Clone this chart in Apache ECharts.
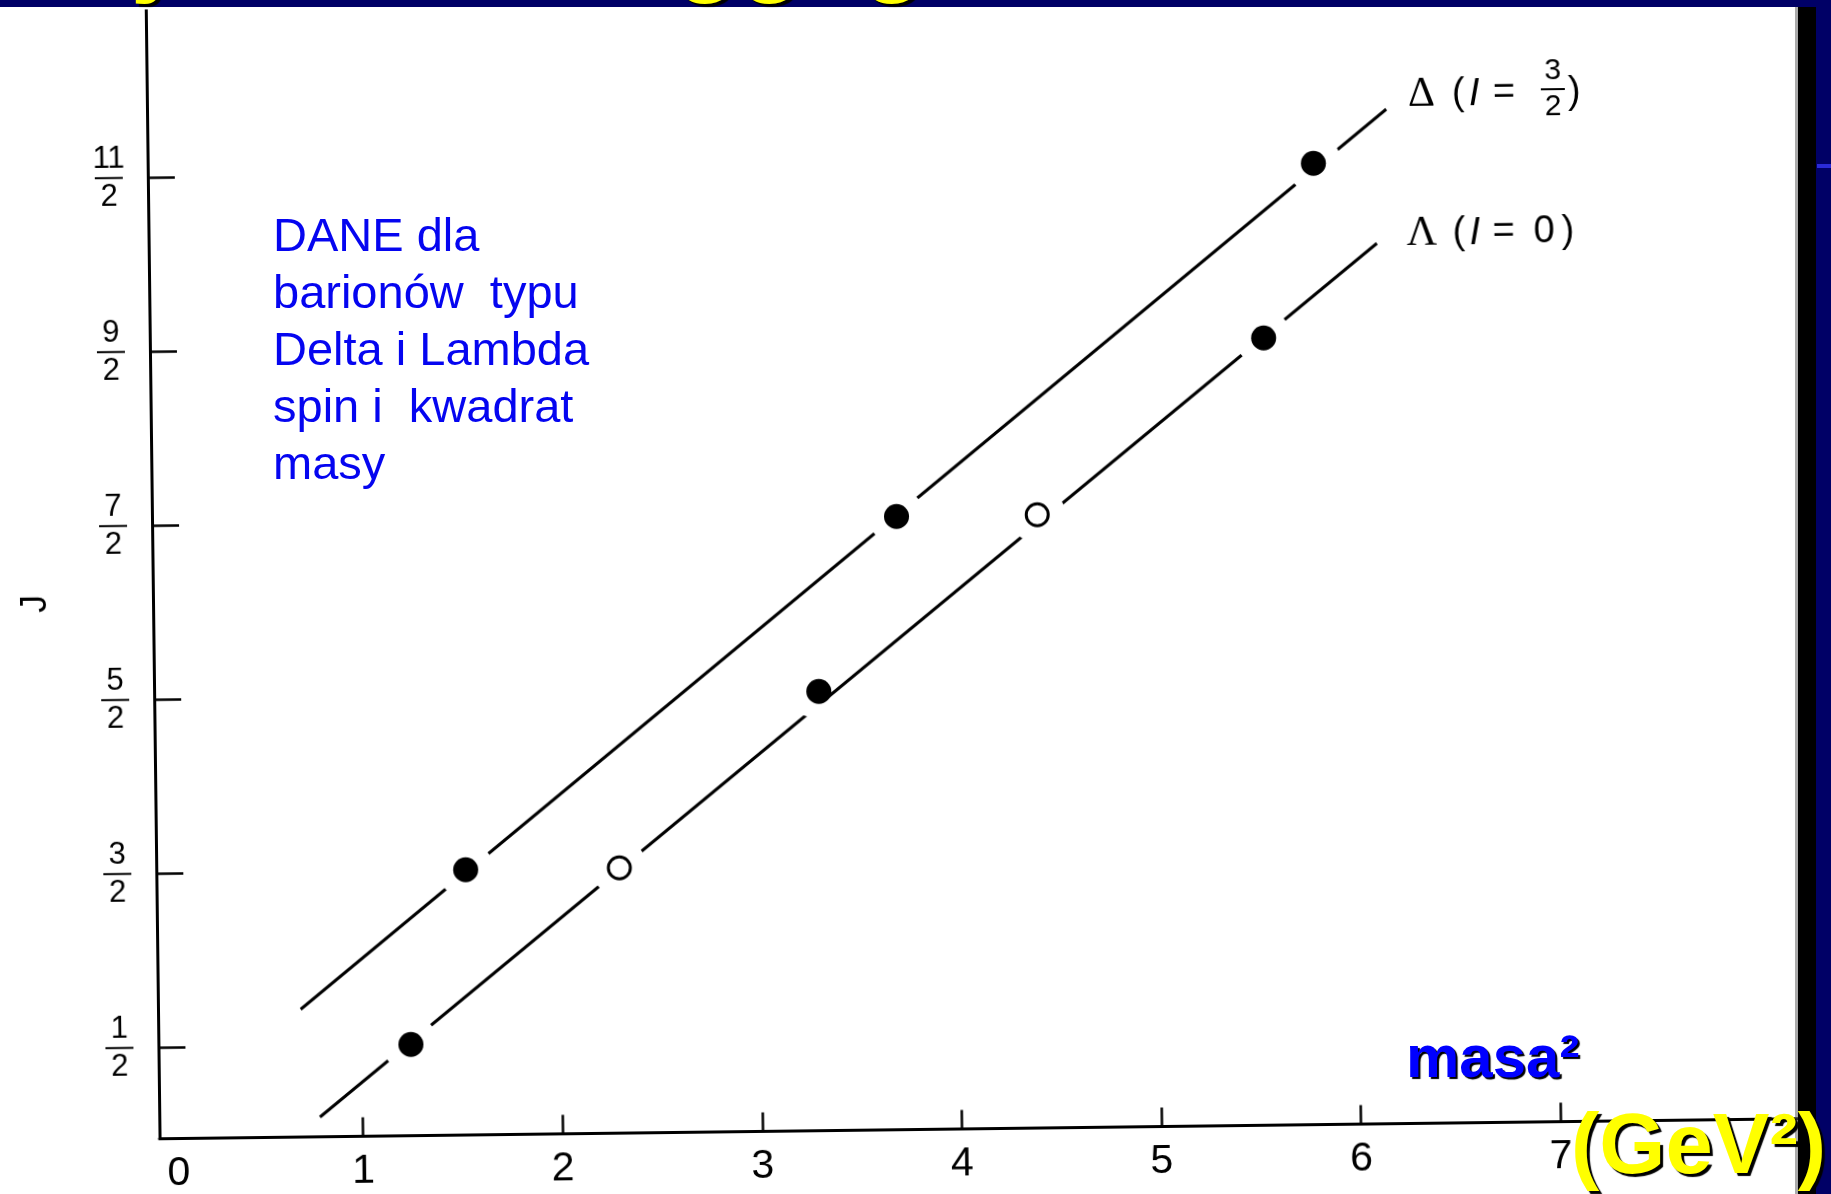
<!DOCTYPE html>
<html><head><meta charset="utf-8">
<script src="https://cdn.jsdelivr.net/npm/echarts@6/dist/echarts.min.js"></script>
<style>
html,body{margin:0;padding:0;background:#fff;overflow:hidden;width:1831px;height:1194px;}
#plot,#slide{position:absolute;left:0;top:0;width:1831px;height:1194px;}
#plot{transform:rotate(-0.7deg);}
</style></head><body>
<div id="plot"></div><div id="slide"></div>
<script>
// ---- data ----
const xTicks = [1, 2, 3, 4, 5, 6, 7];
const xLabels = [0, 1, 2, 3, 4, 5, 6, 7];
const jTicks = [0.5, 1.5, 2.5, 3.5, 4.5, 5.5];
const jNumerators = ['1', '3', '5', '7', '9', '11'];
const jDenominators = ['2', '2', '2', '2', '2', '2'];

const deltaM2 = [1.53, 3.71, 5.82];
const deltaJ = [1.5, 3.5, 5.5];
const deltaOpen = [false, false, false];

const lambdaM2 = [1.245, 2.30, 3.31, 4.415, 5.56];
const lambdaJ = [0.5, 1.5, 2.5, 3.5, 4.5];
const lambdaOpen = [false, true, false, true, false];

const deltaLineM2 = [0.695, 6.188];
const deltaLineJ = [0.71, 5.806];
const lambdaLineM2 = [0.785, 6.133];
const lambdaLineJ = [0.089, 5.036];

// ---- styling ----
const sans = "'Liberation Sans', Arial, Helvetica, sans-serif";
const serif = "'Liberation Serif', 'Times New Roman', serif";
const pairs = (xs, ys) => xs.map((x, i) => [x, ys[i]]);
function markers(xs, ys, open) {
  return xs.map((x, i) => open[i]
    ? { value: [x, ys[i]], symbolSize: 22, itemStyle: { color: '#fff', borderColor: '#000', borderWidth: 3, opacity: 1 } }
    : { value: [x, ys[i]], symbolSize: 25, itemStyle: { color: '#000', borderWidth: 0, opacity: 1 } });
}
// white discs that cut the trajectory line around each point (one-sided cut for the 3rd Λ point)
function gaps(xs, ys, oneSided) {
  return xs.map((x, i) => oneSided === i
    ? { value: [x, ys[i]], symbolSize: 34, symbolOffset: [-9, 8] }
    : { value: [x, ys[i]] });
}
function txt(t, x, y, size, family, extra, rot) {
  return {
    type: 'text', x: x, y: y, rotation: rot || 0, silent: true, z: 10,
    style: Object.assign({ text: t, fontSize: size, fontFamily: family, fill: '#000',
      align: 'left', textAlign: 'left', verticalAlign: 'middle', textVerticalAlign: 'middle' }, extra || {})
  };
}
function frac(n, d, x, y, size, barW) {
  return {
    type: 'text', x: x, y: y, silent: true, z: 10,
    style: {
      text: '{n|' + n + '}\n{b| }\n{d|' + d + '}',
      align: 'center', textAlign: 'center', verticalAlign: 'middle', textVerticalAlign: 'middle',
      rich: {
        n: { fontSize: size, fontFamily: sans, fill: '#000', color: '#000', lineHeight: size, align: 'center' },
        b: { width: barW, height: 2, lineHeight: 6, fontSize: 2, backgroundColor: '#000', align: 'center' },
        d: { fontSize: size, fontFamily: sans, fill: '#000', color: '#000', lineHeight: size, align: 'center' }
      }
    }
  };
}

const plot = echarts.init(document.getElementById('plot'));
plot.setOption({
  animation: false,
  backgroundColor: 'transparent',
  grid: { left: 153, right: 17.3, top: 0, bottom: 64.4 },
  xAxis: {
    type: 'value', min: -0.02, max: 8.3,
    axisLine: { onZero: false, lineStyle: { color: '#000', width: 3 } },
    axisTick: { show: true, inside: true, length: 19, customValues: xTicks, lineStyle: { color: '#000', width: 2.5 } },
    axisLabel: {
      customValues: xLabels, margin: 15, fontSize: 41, fontFamily: sans, color: '#000',
      formatter: v => v === 0 ? '{z|0}' : String(v),
      rich: { z: { fontSize: 41, fontFamily: sans, color: '#000', padding: [0, 0, 0, 30] } }
    },
    splitLine: { show: false }
  },
  yAxis: {
    type: 'value', min: -0.025, max: 6.467,
    axisLine: { onZero: false, lineStyle: { color: '#000', width: 3 } },
    axisTick: { show: true, inside: true, length: 27, customValues: jTicks, lineStyle: { color: '#000', width: 2.5 } },
    axisLabel: {
      customValues: jTicks, margin: 39, align: 'center', color: '#000',
      formatter: v => {
        const i = jTicks.findIndex(t => Math.abs(t - v) < 1e-6);
        if (i < 0) return '';
        return '{n|' + jNumerators[i] + '}\n{b| }\n{d|' + jDenominators[i] + '}';
      },
      rich: {
        n: { fontSize: 31, fontFamily: sans, color: '#000', lineHeight: 32, align: 'center' },
        b: { width: 28, height: 2, lineHeight: 6, fontSize: 2, backgroundColor: '#000', align: 'center' },
        d: { fontSize: 31, fontFamily: sans, color: '#000', lineHeight: 32, align: 'center' }
      }
    },
    splitLine: { show: false }
  },
  series: [
    { name: 'Δ line', type: 'line', data: pairs(deltaLineM2, deltaLineJ), showSymbol: false, symbol: 'none',
      lineStyle: { color: '#000', width: 3 }, z: 2, silent: true },
    { name: 'Λ line', type: 'line', data: pairs(lambdaLineM2, lambdaLineJ), showSymbol: false, symbol: 'none',
      lineStyle: { color: '#000', width: 3 }, z: 2, silent: true },
    { name: 'gap', type: 'scatter', data: gaps(deltaM2, deltaJ, -1).concat(gaps(lambdaM2, lambdaJ, 2)),
      symbolSize: 56, itemStyle: { color: '#fff', opacity: 1 }, z: 3, silent: true },
    { name: 'Δ', type: 'scatter', data: markers(deltaM2, deltaJ, deltaOpen), z: 4, silent: true },
    { name: 'Λ', type: 'scatter', data: markers(lambdaM2, lambdaJ, lambdaOpen), z: 4, silent: true }
  ],
  graphic: [
    txt('J', 36, 593, 36, sans, { align: 'center', textAlign: 'center' }, Math.PI / 2),
    // Δ (I = 3/2)
    txt('Δ', 1414, 101, 42, serif),
    txt('(', 1458, 101, 38, sans),
    txt('I', 1475, 101, 38, sans, { fontStyle: 'italic' }),
    txt('=', 1499, 101, 38, sans),
    frac('3', '2', 1559, 97, 30, 24),
    txt(')', 1574, 101, 38, sans),
    // Λ (I = 0)
    txt('Λ', 1411, 240, 42, serif),
    txt('(', 1457, 240, 38, sans),
    txt('I', 1474, 240, 38, sans, { fontStyle: 'italic' }),
    txt('=', 1497, 240, 38, sans),
    txt('0', 1538, 240, 38, sans),
    txt(')', 1566, 240, 38, sans)
  ]
});

// ---- slide overlay (not rotated) ----
const slide = echarts.init(document.getElementById('slide'));
slide.setOption({
  animation: false,
  backgroundColor: 'transparent',
  graphic: [
    { type: 'rect', shape: { x: 0, y: 0, width: 1831, height: 7 }, style: { fill: '#000066' }, z: 1, silent: true },
    { type: 'rect', shape: { x: 1795, y: 7, width: 4, height: 1187 }, style: { fill: '#555', opacity: 0.5 }, z: 1, silent: true },
    { type: 'rect', shape: { x: 1798, y: 7, width: 19, height: 1187 }, style: { fill: '#000' }, z: 1, silent: true },
    { type: 'rect', shape: { x: 1816, y: 0, width: 15, height: 1194 }, style: { fill: '#000066' }, z: 2, silent: true },
    { type: 'rect', shape: { x: 1817, y: 164, width: 14, height: 4 }, style: { fill: '#2a2ad8' }, z: 3, silent: true },
    { type: 'text', x: -20, y: -47, z: 5, silent: true,
      style: { text: 'Trajektorie Reggego', fontSize: 105, fontWeight: 'bold', fontFamily: sans, fill: '#ffff00',
        align: 'left', textAlign: 'left', verticalAlign: 'middle', textVerticalAlign: 'middle',
        textShadowColor: '#000', textShadowOffsetX: 3, textShadowOffsetY: 3, textShadowBlur: 1 } },
    { type: 'text', x: 273, y: 210, z: 5, silent: true,
      style: { text: 'DANE dla\nbarionów  typu\nDelta i Lambda\nspin i  kwadrat\nmasy', fontSize: 47, lineHeight: 57,
        fontFamily: sans, fill: '#0505f0', align: 'left', textAlign: 'left', verticalAlign: 'top', textVerticalAlign: 'top' } },
    { type: 'text', x: 1406, y: 1060, z: 5, silent: true,
      style: { text: 'masa²', fontSize: 60, fontWeight: 'bold', fontFamily: sans, fill: '#0000ff',
        align: 'left', textAlign: 'left', verticalAlign: 'middle', textVerticalAlign: 'middle',
        textShadowColor: '#000', textShadowOffsetX: 2, textShadowOffsetY: 2, textShadowBlur: 1 } },
    { type: 'text', x: 1571, y: 1150, z: 5, silent: true,
      style: { text: '(GeV²)', fontSize: 85, fontWeight: 'bold', fontFamily: sans, fill: '#ffff00',
        align: 'left', textAlign: 'left', verticalAlign: 'middle', textVerticalAlign: 'middle',
        textShadowColor: '#000', textShadowOffsetX: 3, textShadowOffsetY: 3, textShadowBlur: 1 } }
  ]
});
</script>
</body></html>
